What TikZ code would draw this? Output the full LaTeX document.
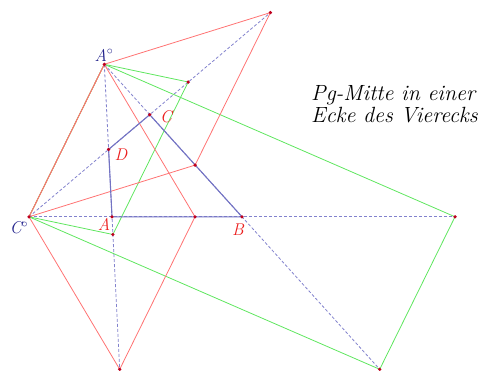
\documentclass[tikz,border=0pt]{standalone}
\usetikzlibrary{calc}
\definecolor{redl}{RGB}{255,115,115}
\definecolor{greenl}{RGB}{95,230,95}
\definecolor{bluel}{RGB}{115,115,195}
\definecolor{blued}{RGB}{130,130,205}
\definecolor{dotc}{RGB}{190,0,30}
\definecolor{labblue}{RGB}{35,35,140}
\definecolor{labred}{RGB}{235,30,30}
\tikzset{
  redline/.style={draw=redl, line width=0.8pt},
  greenline/.style={draw=greenl, line width=0.8pt},
  dashline/.style={draw=blued, line width=0.8pt, dash pattern=on 3pt off 2pt},
  quadline/.style={draw=bluel, line width=1.1pt},
  ptlab/.style={font=\fontsize{17}{17}\selectfont\itshape, inner sep=0pt},
}
\begin{document}
\begin{tikzpicture}[x=1pt,y=-1pt]
\useasboundingbox (0,0) rectangle (482,370);
\coordinate (Ao) at (104.3,64.3);
\coordinate (Co) at (29,216.8);
\coordinate (A) at (112,216.8);
\coordinate (B) at (242,216.8);
\coordinate (C) at (149.7,114.7);
\coordinate (D) at (108.6,149.4);
% reflections
\coordinate (A1) at ($2*(A)-(Ao)$);
\coordinate (A2) at ($2*(A)-(Co)$);
\coordinate (B1) at ($2*(B)-(Ao)$);
\coordinate (B2) at ($2*(B)-(Co)$);
\coordinate (C1) at ($2*(C)-(Ao)$);
\coordinate (C2) at ($2*(C)-(Co)$);
\coordinate (D1) at ($2*(D)-(Ao)$);
\coordinate (D2) at ($2*(D)-(Co)$);
% dashed lines
\draw[dashline] (Ao) -- (A1);
\draw[dashline] (Co) -- (B2);
\draw[dashline] (Ao) -- (B1);
\draw[dashline] (Co) -- (C2);
% green parallelograms
\draw[greenline] (Ao) -- (D2) -- (D1) -- (Co) -- cycle;
\draw[greenline] (Ao) -- (B2) -- (B1) -- (Co) -- cycle;
% red parallelograms
\draw[redline] (Ao) -- (C2) -- (C1) -- (Co) -- cycle;
\draw[redline] (Ao) -- (A2) -- (A1) -- (Co) -- cycle;
% quadrilateral
\draw[quadline] (A) -- (B) -- (C) -- (D) -- cycle;
% dots
\foreach \p in {Ao,Co,A,B,C,D,A1,A2,B1,B2,C1,C2,D1,D2}
  \fill[dotc] (\p) circle (1.8);
% labels
\node[ptlab, text=labblue] (lAo) at (104,55) {A$^{\circ}$};
\node[ptlab, text=labblue] (lCo) at (19,228) {C$^{\circ}$};
\node[ptlab, text=labred] (lC) at (166,117) {C};
\node[ptlab, text=labred] (lD) at (121,155) {D};
\node[ptlab, text=labred] (lA) at (104,224) {A};
\node[ptlab, text=labred] (lB) at (238,230) {B};
\node[anchor=west, align=left, font=\fontsize{22}{22}\selectfont\itshape, inner sep=0pt] (title) at (311,104) {Pg-Mitte in einer\\Ecke des Vierecks};
\end{tikzpicture}
\end{document}
